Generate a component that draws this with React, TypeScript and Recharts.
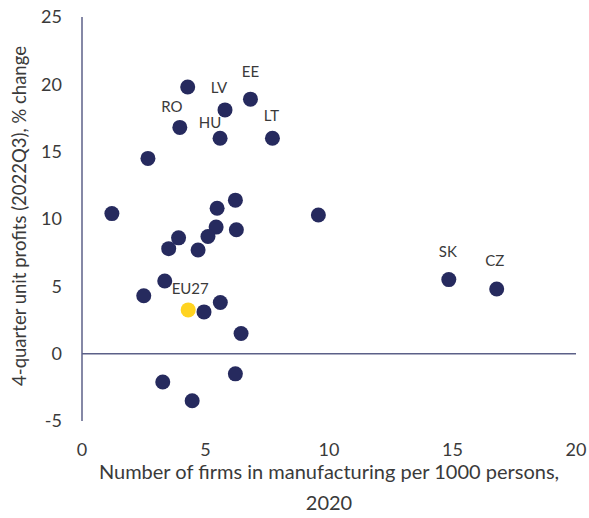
import React from 'react'
import { ScatterChart, Scatter, XAxis, YAxis, ReferenceLine, Label } from 'recharts'

// page has an 8px body margin by default, remove it so the chart sits at 0,0
if (typeof document !== 'undefined') document.body.style.margin = '0'

// member states: firms per 1000 persons (2020) vs 4-quarter unit profits change (%)
const countryLabels = [
    '', 'RO', 'LV', 'EE', 'HU', 'LT', '', '', '', '', '', '', '', '',
    '', '', '', '', '', '', '', '', '', '', 'SK', 'CZ', '',
]
const firmsPer1000 = [
    4.28, 3.96, 5.79, 6.82, 5.59, 7.71, 2.67, 1.21, 6.21, 5.47, 5.43, 6.25, 3.91, 5.10,
    3.51, 4.70, 3.35, 2.50, 4.94, 5.60, 6.44, 3.27, 4.46, 6.21, 14.85, 16.79, 9.57,
]
const profitChange = [
    19.8, 16.8, 18.1, 18.9, 16.0, 16.0, 14.5, 10.4, 11.4, 10.8, 9.4, 9.2, 8.6, 8.7,
    7.8, 7.7, 5.4, 4.3, 3.1, 3.8, 1.5, -2.1, -3.5, -1.5, 5.5, 4.8, 10.3,
]
const euLabel = ['EU27']
const euFirms = [4.30]
const euProfit = [3.25]

const xTicks = [0, 5, 10, 15, 20]
const yTicks = [-5, 0, 5, 10, 15, 20, 25]

// label placement relative to the dot centre
const labelOffset: Record<string, [number, number]> = {
    RO: [-8, -21],
    LV: [-6, -23],
    EE: [0, -28],
    HU: [-10, -16],
    LT: [-1, -23],
    SK: [-1, -29],
    CZ: [-2, -29],
    EU27: [2, -22],
}

const countryData = firmsPer1000.map((x, i) => ({ x, y: profitChange[i], label: countryLabels[i] }))
const euData = euFirms.map((x, i) => ({ x, y: euProfit[i], label: euLabel[i] }))

const FONT = 'Lato, "Open Sans", sans-serif'
const NAVY = '#262a5e'
const YELLOW = '#ffd320'
const AXIS = '#5c6088'
const TEXT = '#3a3a3a'

const dot = (fill: string) => (props: any) => {
    const { cx, cy, payload } = props
    const lbl = payload?.label
    const off = lbl ? labelOffset[lbl] || [0, -20] : null
    return (
        <g>
            <circle cx={cx} cy={cy} r={7.5} fill={fill} />
            {lbl && off ? (
                <text
                    x={cx + off[0]}
                    y={cy + off[1]}
                    textAnchor='middle'
                    dominantBaseline='central'
                    fontFamily={FONT}
                    fontSize={15}
                    fill={TEXT}
                >
                    {lbl}
                </text>
            ) : null}
        </g>
    )
}

export default function App() {
    return (
        <ScatterChart
            width={589}
            height={518}
            margin={{ top: 17, right: 13, bottom: 0, left: 0 }}
            style={{ background: '#fff' }}
        >
            <XAxis
                type='number'
                dataKey='x'
                domain={[0, 20]}
                ticks={xTicks}
                axisLine={false}
                tickLine={false}
                tickMargin={16}
                height={97}
                tick={{ fontFamily: FONT, fontSize: 18, fill: TEXT }}
            >
                <Label
                    content={(p: any) => {
                        const vb = p.viewBox
                        const cx = vb.x + vb.width / 2
                        return (
                            <g fontFamily={FONT} fontSize={20} fill={TEXT} textAnchor='middle'>
                                <text x={cx} y={vb.y + 58}>Number of firms in manufacturing per 1000 persons,</text>
                                <text x={cx} y={vb.y + 89}>2020</text>
                            </g>
                        )
                    }}
                />
            </XAxis>
            <YAxis
                type='number'
                dataKey='y'
                domain={[-5, 25]}
                ticks={yTicks}
                width={82}
                axisLine={{ stroke: AXIS, strokeWidth: 1.5 }}
                tickLine={false}
                tickMargin={14}
                tick={{ fontFamily: FONT, fontSize: 18, fill: TEXT }}
            >
                <Label
                    content={(p: any) => {
                        const vb = p.viewBox
                        const cy = vb.y + vb.height / 2 - 3
                        return (
                            <text
                                x={26}
                                y={cy}
                                transform={`rotate(-90, 26, ${cy})`}
                                textAnchor='middle'
                                fontFamily={FONT}
                                fontSize={18.5}
                                fill={TEXT}
                            >
                                4-quarter unit profits (2022Q3), % change
                            </text>
                        )
                    }}
                />
            </YAxis>
            <ReferenceLine y={0} stroke={AXIS} strokeWidth={1.5} />
            <Scatter data={countryData} shape={dot(NAVY)} isAnimationActive={false} />
            <Scatter data={euData} shape={dot(YELLOW)} isAnimationActive={false} />
        </ScatterChart>
    )
}
